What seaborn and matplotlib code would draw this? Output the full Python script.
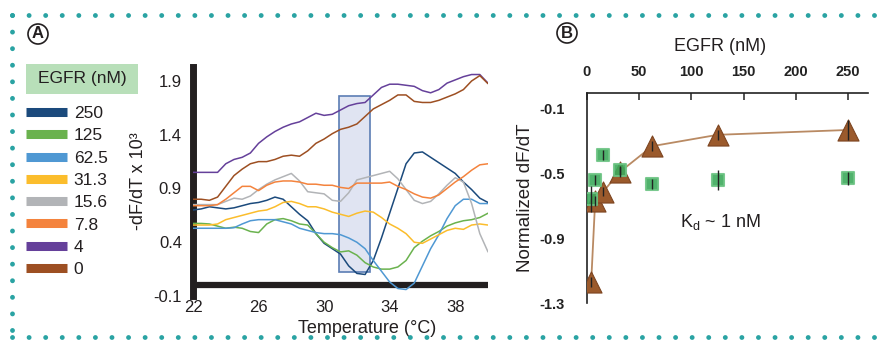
import numpy as np
import pandas as pd
import matplotlib
matplotlib.use("Agg")
import matplotlib.pyplot as plt
import seaborn as sns
from matplotlib.lines import Line2D
from matplotlib.patches import Rectangle

# ---- panel A: melt curves (-dF/dT x 10^3) ----
temps = np.arange(22, 40.01, 0.5)

egfr_250 = [0.70, 0.71, 0.73, 0.72, 0.71, 0.72, 0.74, 0.76, 0.77, 0.79, 0.82, 0.80, 0.73,
            0.66, 0.60, 0.48, 0.39, 0.34, 0.29, 0.18, 0.11, 0.10, 0.23, 0.44, 0.67, 0.90,
            1.13, 1.23, 1.24, 1.19, 1.14, 1.09, 1.04, 0.96, 0.89, 0.81, 0.77]
egfr_125 = [0.575, 0.575, 0.57, 0.55, 0.53, 0.54, 0.53, 0.50, 0.49, 0.57, 0.61, 0.62, 0.60,
            0.57, 0.56, 0.48, 0.40, 0.35, 0.31, 0.32, 0.28, 0.21, 0.17, 0.15, 0.15, 0.17,
            0.23, 0.35, 0.41, 0.46, 0.50, 0.55, 0.58, 0.60, 0.61, 0.63, 0.67]
egfr_62_5 = [0.53, 0.53, 0.53, 0.53, 0.53, 0.535, 0.57, 0.60, 0.61, 0.61, 0.61, 0.59, 0.57,
             0.53, 0.51, 0.49, 0.48, 0.48, 0.47, 0.44, 0.40, 0.34, 0.23, 0.13, 0.03, -0.03,
             -0.04, 0.02, 0.18, 0.34, 0.47, 0.62, 0.74, 0.80, 0.80, 0.76, 0.76]
egfr_31_3 = [0.56, 0.56, 0.56, 0.57, 0.61, 0.63, 0.65, 0.67, 0.69, 0.70, 0.73, 0.77, 0.78,
             0.76, 0.73, 0.73, 0.71, 0.68, 0.66, 0.64, 0.67, 0.69, 0.68, 0.63, 0.57, 0.53,
             0.48, 0.40, 0.39, 0.43, 0.47, 0.51, 0.53, 0.52, 0.56, 0.57, 0.56]
egfr_15_6 = [0.75, 0.75, 0.75, 0.75, 0.78, 0.81, 0.80, 0.83, 0.89, 0.94, 0.98, 1.01, 1.04,
             0.97, 0.87, 0.86, 0.85, 0.79, 0.78, 0.86, 0.98, 1.00, 1.02, 1.04, 1.06, 0.99,
             0.89, 0.79, 0.76, 0.78, 0.85, 0.93, 1.00, 0.96, 0.76, 0.48, 0.31]
egfr_7_8 = [0.74, 0.74, 0.74, 0.75, 0.80, 0.86, 0.92, 0.92, 0.88, 0.93, 0.96, 0.97, 0.97,
            0.96, 0.94, 0.94, 0.93, 0.93, 0.91, 0.90, 0.95, 0.95, 0.95, 0.95, 0.96, 0.92,
            0.89, 0.85, 0.82, 0.81, 0.84, 0.90, 0.96, 1.01, 1.07, 1.12, 1.13]
egfr_4 = [1.05, 1.05, 1.05, 1.05, 1.13, 1.17, 1.19, 1.23, 1.32, 1.38, 1.43, 1.47, 1.50,
          1.52, 1.56, 1.60, 1.58, 1.59, 1.63, 1.67, 1.69, 1.70, 1.77, 1.84, 1.87, 1.87,
          1.86, 1.85, 1.81, 1.79, 1.82, 1.88, 1.91, 1.94, 1.96, 1.96, 1.88]
egfr_0 = [0.80, 0.80, 0.79, 0.82, 0.92, 1.02, 1.08, 1.13, 1.15, 1.15, 1.17, 1.20, 1.21,
          1.20, 1.25, 1.32, 1.36, 1.41, 1.45, 1.47, 1.50, 1.57, 1.64, 1.68, 1.72, 1.77,
          1.77, 1.71, 1.70, 1.70, 1.72, 1.75, 1.78, 1.82, 1.90, 1.95, 1.875]

labels = ['250', '125', '62.5', '31.3', '15.6', '7.8', '4', '0']
series = [egfr_250, egfr_125, egfr_62_5, egfr_31_3, egfr_15_6, egfr_7_8, egfr_4, egfr_0]
colors = ['#1b4a7c', '#6ab24e', '#4f98d3', '#fbbd2c', '#b2b4b7', '#f4833d', '#65409a', '#9d4f22']

# ---- panel B: normalized dF/dT vs EGFR ----
conc = [4, 7.8, 15.6, 31.3, 62.5, 125, 250]
fit_vals = [-1.17, -0.67, -0.61, -0.49, -0.33, -0.26, -0.23]
fit_err = [0.03, 0.03, 0.03, 0.03, 0.03, 0.03, 0.06]
ctrl_vals = [-0.655, -0.537, -0.385, -0.48, -0.564, -0.54, -0.527]
ctrl_err = [0.08, 0.03, 0.03, 0.03, 0.03, 0.06, 0.04]

sns.set_style('white')
plt.rcParams['font.family'] = ['Liberation Sans', 'DejaVu Sans']

W, H = 887, 340
fig = plt.figure(figsize=(W / 100, H / 100), dpi=100)

df = pd.concat([pd.DataFrame({'Temperature': temps, 'value': s, 'EGFR': lab})
                for s, lab in zip(series, labels)])
palette = dict(zip(labels, colors))

axA = fig.add_axes([193 / W, 1 - 296 / H, 295 / W, 229 / H])
axA.add_patch(Rectangle((30.9, 0.123), 1.93, 1.637, facecolor='#e0e4f2',
                        edgecolor='#5b7db4', lw=1.2, zorder=1))
axA.axhline(0, color='#231f20', lw=4.5, zorder=2)
sns.lineplot(data=df, x='Temperature', y='value', hue='EGFR', hue_order=labels,
             palette=palette, legend=False, lw=1.1, estimator=None, ax=axA, zorder=3)
axA.set_xlim(22, 40)
axA.set_ylim(-0.1, 2.03)
axA.set_xticks([22, 26, 30, 34, 38])
axA.set_yticks([-0.1, 0.4, 0.9, 1.4, 1.9])
axA.set_yticklabels(['-0.1', '0.4', '0.9', '1.4', '1.9'])
for s in ['top', 'right', 'bottom']:
    axA.spines[s].set_visible(False)
axA.spines['left'].set_color('#231f20')
axA.spines['left'].set_linewidth(5)
axA.tick_params(axis='both', length=0, labelsize=12, colors='#231f20')
axA.tick_params(axis='y', pad=8)
axA.tick_params(axis='x', pad=3)
axA.set_xlabel('Temperature (°C)', fontsize=13, color='#231f20')
axA.set_ylabel('-dF/dT x 10³', fontsize=13, color='#231f20')
axA.xaxis.set_label_coords(0.59, -0.105)
axA.yaxis.set_label_coords(-0.155, 0.5)

# legend for panel A
fig.patches.append(Rectangle((26 / W, 1 - 94 / H), 112 / W, 30 / H, transform=fig.transFigure,
                             facecolor='#b8dfb9', edgecolor='none'))
fig.text(82 / W, 1 - 79 / H, 'EGFR (nM)', ha='center', va='center', fontsize=12.5,
         color='#231f20')
handles = [Line2D([], [], color=c, lw=6.5, solid_capstyle='butt') for c in colors]
fig.legend(handles, labels, loc='upper left', bbox_to_anchor=(26 / W, 1 - 106 / H),
           bbox_transform=fig.transFigure, frameon=False, fontsize=12.5,
           handlelength=2.35, handletextpad=0.4, labelspacing=0.41, borderpad=0,
           borderaxespad=0, labelcolor='#231f20')

# ---- panel B ----
axB = fig.add_axes([587 / W, 1 - 303.3 / H, 281 / W, 210.6 / H])
sns.lineplot(x=conc, y=fit_vals, color='#b98a63', lw=1.3, ax=axB, zorder=2)
sns.scatterplot(x=conc, y=fit_vals, marker='^', s=230, color='#9b5a2c',
                edgecolor='#7d4521', linewidth=0.8, ax=axB, zorder=3)
sns.scatterplot(x=conc, y=ctrl_vals, marker='s', s=75, color='#3daa5c',
                edgecolor='#6cc383', linewidth=1.5, alpha=0.9, ax=axB, zorder=4)
axB.errorbar(conc, fit_vals, yerr=fit_err, fmt='none', ecolor='#222222', elinewidth=1.0,
             capsize=0, zorder=5)
axB.errorbar(conc, ctrl_vals, yerr=ctrl_err, fmt='none', ecolor='#222222', elinewidth=1.0,
             capsize=0, zorder=5)
axB.set_xlim(0, 269)
axB.set_ylim(-1.3, 0)
axB.set_xticks([0, 50, 100, 150, 200, 250])
axB.set_yticks([-1.3, -0.9, -0.5, -0.1])
axB.set_yticklabels(['-1.3', '-0.9', '-0.5', '-0.1'])
for s in ['bottom', 'right']:
    axB.spines[s].set_visible(False)
for s in ['top', 'left']:
    axB.spines[s].set_color('#222222')
    axB.spines[s].set_linewidth(1.2)
axB.xaxis.tick_top()
axB.xaxis.set_label_position('top')
axB.tick_params(axis='both', direction='in', length=5, width=1.1, labelsize=10.5,
                colors='#222222')
axB.tick_params(axis='x', pad=10)
axB.tick_params(axis='y', pad=16)
for t in axB.get_xticklabels() + axB.get_yticklabels():
    t.set_fontweight('bold')
axB.set_xlabel('EGFR (nM)', fontsize=13, color='#231f20')
axB.set_ylabel('Normalized dF/dT', fontsize=13.5, color='#231f20')
axB.xaxis.set_label_coords(0.473, 1.2)
axB.yaxis.set_label_coords(-0.19, 0.5)
axB.text(89, -0.8, r'K$_\mathregular{d}$ ~ 1 nM', fontsize=13, ha='left', va='center',
         color='#231f20')

# panel letters
for x, y, t in [(38, 34, 'A'), (567, 33, 'B')]:
    fig.text(x / W, 1 - y / H, t, ha='center', va='center', fontsize=12, fontweight='bold',
             color='#231f20',
             bbox=dict(boxstyle='circle,pad=0.15', fc='white', ec='#231f20', lw=1.2))

# dotted teal frame
dot = dict(transform=fig.transFigure, color='#2aa3a3', lw=3.5,
           linestyle=(0, (0.01, 3.4)), dash_capstyle='round')
fig.add_artist(Line2D([12 / W, 1.0], [1 - 15 / H, 1 - 15 / H], **dot))
fig.add_artist(Line2D([12 / W, 12 / W], [1 - 15 / H, 1 - 337 / H], **dot))
fig.add_artist(Line2D([12 / W, 1.0], [1 - 337 / H, 1 - 337 / H], **dot))

fig.savefig('out.png', dpi=100)
